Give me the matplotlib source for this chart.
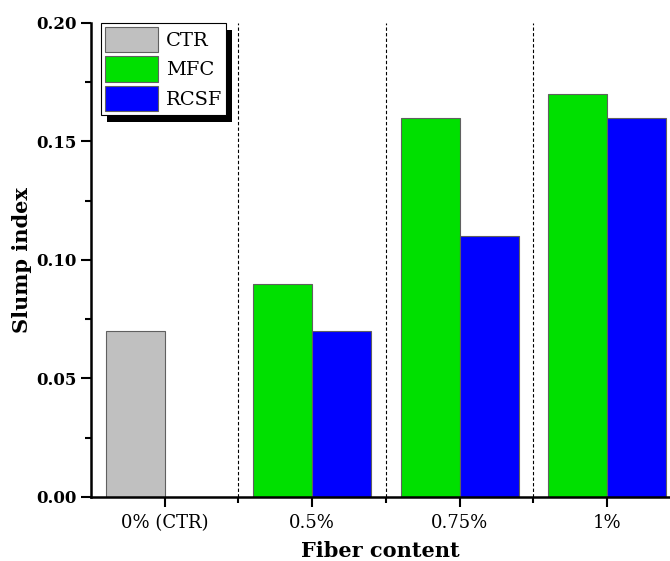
import matplotlib

matplotlib.use("Agg")
import matplotlib.pyplot as plt
import numpy as np
from matplotlib.patches import Rectangle
from matplotlib.ticker import MultipleLocator, FixedLocator

categories = ["0% (CTR)", "0.5%", "0.75%", "1%"]
ctr = [0.07, None, None, None]
mfc = [None, 0.09, 0.16, 0.17]
rcsf = [None, 0.07, 0.11, 0.16]

plt.rcParams["font.family"] = ["DejaVu Serif"]
plt.rcParams["mathtext.fontset"] = "dejavuserif"

fig = plt.figure(figsize=(6.7, 5.61), dpi=100)
ax = fig.add_axes([0.1358, 0.1141, 0.8627, 0.845])

x = np.arange(len(categories))
w = 0.4
edge = "#606060"


def _bars(vals, offset, color, label):
    xs = [xi + offset for xi, v in zip(x, vals) if v is not None]
    ys = [v for v in vals if v is not None]
    ax.bar(xs, ys, width=w, color=color, edgecolor=edge, linewidth=0.8, label=label)


_bars(ctr, -w / 2, "#C0C0C0", "CTR")
_bars(mfc, -w / 2, "#00E000", "MFC")
_bars(rcsf, w / 2, "#0000FF", "RCSF")

for b in [0.5, 1.5, 2.5]:
    ax.axvline(b, color="black", linestyle=(0, (3, 2)), linewidth=0.8)

ax.set_xlim(-0.5, 3.42)
ax.set_ylim(0, 0.2)
ax.set_xticks(x)
ax.set_xticklabels(categories, fontsize=13)
ax.xaxis.set_minor_locator(FixedLocator([0.5, 1.5, 2.5]))
ax.yaxis.set_major_locator(MultipleLocator(0.05))
ax.yaxis.set_minor_locator(MultipleLocator(0.025))
ax.set_yticklabels([f"{v:.2f}" for v in ax.get_yticks()], fontsize=12, fontweight="bold")

ax.tick_params(axis="both", which="major", direction="out", length=7, width=1.5)
ax.tick_params(axis="both", which="minor", direction="out", length=4, width=1.5)
ax.tick_params(axis="x", pad=5)

for side in ["top", "right"]:
    ax.spines[side].set_visible(False)
for side in ["left", "bottom"]:
    ax.spines[side].set_linewidth(1.8)

ax.set_xlabel("Fiber content", fontsize=15, fontweight="bold", labelpad=7)
ax.set_ylabel("Slump index", fontsize=15, fontweight="bold", labelpad=3)

leg = ax.legend(
    loc="upper left",
    bbox_to_anchor=(0.018, 1.0),
    fontsize=14,
    fancybox=False,
    framealpha=1,
    edgecolor="black",
    handlelength=2.7,
    handleheight=1.65,
    handletextpad=0.4,
    labelspacing=0.2,
    borderpad=0.2,
    borderaxespad=0.0,
)
leg.get_frame().set_linewidth(0.8)
leg.set_zorder(5)

# black drop shadow, offset a few pixels down-right, drawn under the legend
fig.canvas.draw()
bb = leg.get_window_extent().transformed(fig.transFigure.inverted())
dx, dy = 6 / 670, 7 / 561
ax.add_patch(Rectangle((bb.x0 + dx, bb.y0 - dy), bb.width, bb.height,
                       transform=fig.transFigure, facecolor="black",
                       edgecolor="none", zorder=4, clip_on=False))

fig.savefig("out.png", dpi=100)
